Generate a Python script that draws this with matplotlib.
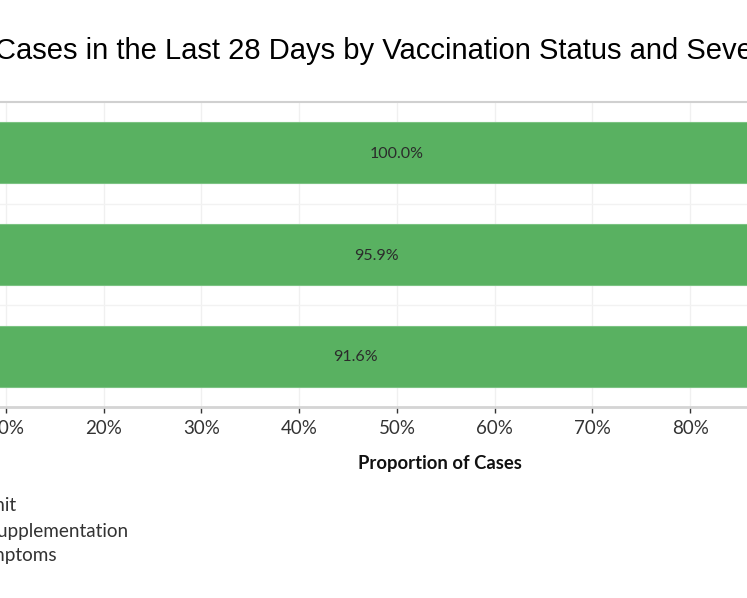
import matplotlib
matplotlib.use("Agg")
from matplotlib import pyplot as plt

# Data
statuses = ["Fully Vaccinated", "Partially Vaccinated", "Unvaccinated"]
no_symptoms = [100.0, 95.9, 91.6]
x_ticks = [0, 10, 20, 30, 40, 50, 60, 70, 80, 90, 100]
legend_labels = ["Hospital Admit", "Oxygen Supplementation", "Mild Symptoms"]

title = "Cases in the Last 28 Days by Vaccination Status and Severity"

W, H = 747, 598
fig = plt.figure(figsize=(W / 100, H / 100), dpi=100)

# axes is wider than the picture, the view is cropped on both sides
ax = fig.add_axes([-92.1 / W, (H - 407) / H, 978 / W, 305 / H])

green = "#59b161"
ax.barh(range(len(statuses)), no_symptoms, height=0.6, color=green,
        edgecolor="#7cc383", linewidth=0.8, zorder=2)

for i, v in enumerate(no_symptoms):
    ax.text(v / 2, i + 0.01, f"{v:.1f}%", ha="center", va="center",
            fontsize=11.5, color="#2b2b2b", family="Lato", zorder=3)

ax.set_xlim(0, 100)
ax.set_ylim(2.5, -0.5)
ax.set_yticks(range(len(statuses)))
ax.set_yticklabels(statuses)
ax.set_xticks(x_ticks)
ax.set_xticklabels([f"{t}%" for t in x_ticks], family="Lato", fontsize=13.5, color="#333333")
ax.tick_params(axis="x", length=4, width=1, color="#333333", pad=5)
ax.tick_params(axis="y", length=0)

# grid
for t in x_ticks:
    ax.axvline(t, color="#f0f0f0", linewidth=1, zorder=0)
for y in [0.5, 1.5]:
    ax.axhline(y, color="#f2f2f2", linewidth=1, zorder=0)

for s in ["left", "right"]:
    ax.spines[s].set_visible(False)
ax.spines["top"].set_color("#d0d0d0")
ax.spines["top"].set_linewidth(1.5)
ax.spines["bottom"].set_color("#d4d4d4")
ax.spines["bottom"].set_linewidth(2)

fig.text(-5 / W, 1 - 51 / H, title, ha="left", va="center",
         fontsize=21, family="Liberation Sans", color="black")

fig.text(440 / W, 1 - 463 / H, "Proportion of Cases", ha="center", va="center",
         fontsize=13.3, fontweight="bold", family="Lato", color="#111111")

# legend (cropped on the left)
legend_x = [16, 128, 57]
legend_y = [506, 531, 555]
for lab, lx, ly in zip(legend_labels, legend_x, legend_y):
    fig.text(lx / W, 1 - ly / H, lab, ha="right", va="center",
             fontsize=13.6, family="Lato", color="#333333")

plt.savefig("out.png", dpi=100)
